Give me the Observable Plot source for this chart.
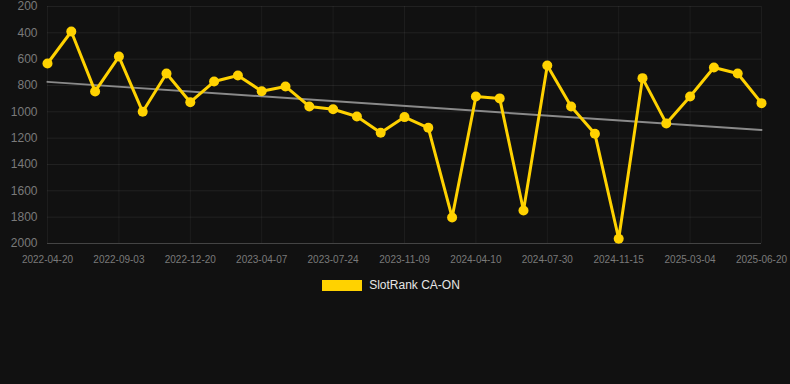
<!DOCTYPE html>
<html>
<head>
<meta charset="utf-8">
<script src="https://cdn.jsdelivr.net/npm/d3@7"></script>
<script src="https://cdn.jsdelivr.net/npm/@observablehq/plot@0.6"></script>
<style>
  html, body { margin: 0; padding: 0; background: #111111; }
  body { width: 790px; height: 384px; overflow: hidden; font-family: "Liberation Sans", Arial, sans-serif; }
  #legend { display: flex; justify-content: center; align-items: center; padding-top: 8px; padding-right: 8px; }
  #legend .sw { width: 40px; height: 11px; background: #FFD200; margin-right: 7px; }
  #legend .lb { color: #e6e6e6; font-size: 12px; }
</style>
</head>
<body>
<div id="chart"></div>
<div id="legend"><div class="sw"></div><div class="lb">SlotRank CA-ON</div></div>
<script>
const seriesName = "SlotRank CA-ON";
const tickLabels = ["2022-04-20","2022-09-03","2022-12-20","2023-04-07","2023-07-24","2023-11-09","2024-04-10","2024-07-30","2024-11-15","2025-03-04","2025-06-20"];
const rankValues = [633,390,845,580,1000,709,927,770,724,843,807,959,980,1035,1159,1040,1121,1802,883,898,1749,648,959,1167,1964,744,1088,883,663,709,934];
const yTicks = [200,400,600,800,1000,1200,1400,1600,1800,2000];

const data = rankValues.map((v, i) => ({i, v}));
const xTicks = tickLabels.map((_, k) => k * 3);

const chart = Plot.plot({
  width: 790,
  height: 270,
  marginLeft: 47,
  marginRight: 29,
  marginTop: 6,
  marginBottom: 27,
  style: {background: "#111111", fontFamily: "Liberation Sans, Arial, sans-serif", overflow: "visible"},
  x: {domain: [0, rankValues.length - 1], ticks: xTicks, tickFormat: d => tickLabels[d / 3], tickSize: 0, tickPadding: 12, label: null},
  y: {domain: [200, 2000], reverse: true, ticks: yTicks, tickFormat: d => String(d), tickSize: 0, tickPadding: 10, label: null},
  marks: [
    Plot.gridY(yTicks, {stroke: "#ffffff", strokeOpacity: 0.07}),
    Plot.gridX(xTicks, {stroke: "#ffffff", strokeOpacity: 0.05}),
    Plot.ruleY([2000], {stroke: "#ffffff", strokeOpacity: 0.16}),
    Plot.axisX({ticks: xTicks, tickFormat: d => tickLabels[d / 3], tickSize: 0, tickPadding: 12, fontSize: 10, fill: "#7a7a7a"}),
    Plot.axisY({ticks: yTicks, tickFormat: d => String(d), tickSize: 0, tickPadding: 10, fontSize: 12, fill: "#7a7a7a"}),
    Plot.linearRegressionY(data, {x: "i", y: "v", stroke: "#8a8a8a", strokeWidth: 2, ci: 0}),
    Plot.line(data, {x: "i", y: "v", stroke: "#FFD200", strokeWidth: 3}),
    Plot.dot(data, {x: "i", y: "v", fill: "#FFD200", r: 5})
  ]
});
document.getElementById("chart").appendChild(chart);
</script>
</body>
</html>
